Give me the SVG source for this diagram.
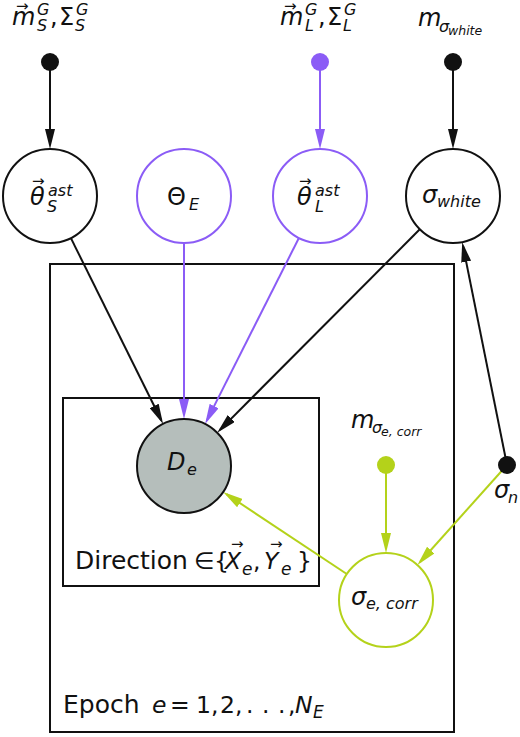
<svg xmlns="http://www.w3.org/2000/svg" width="520" height="737" viewBox="0 0 520 737">
<defs>
<style>
text { font-family: "DejaVu Sans", "Noto Sans", sans-serif; fill: #111; }
.it { font-style: italic; }
.m { font-size: 24px; }
.pl { font-size: 25px; }
.pm { font-size: 23.5px; }
.s { font-size: 16px; }
.ps { font-size: 17px; }
.ss { font-size: 12.5px; }
.vec { font-size: 15px; }
.node { fill: #fff; stroke-width: 2; }
.k { stroke: #111; }
.p { stroke: #8b5cf6; }
.g { stroke: #b4d21a; }
.edge { fill: none; stroke-width: 2; }
.plate { fill: none; stroke: #111; stroke-width: 2; }
</style>
<marker id="ak" viewBox="0 0 20 10" refX="16" refY="5" markerWidth="20" markerHeight="10" markerUnits="userSpaceOnUse" orient="auto"><path d="M0,0 L20,5 L0,10 z" fill="#111"/></marker>
<marker id="ap" viewBox="0 0 20 10" refX="16" refY="5" markerWidth="20" markerHeight="10" markerUnits="userSpaceOnUse" orient="auto"><path d="M0,0 L20,5 L0,10 z" fill="#8b5cf6"/></marker>
<marker id="ag" viewBox="0 0 20 10" refX="16" refY="5" markerWidth="20" markerHeight="10" markerUnits="userSpaceOnUse" orient="auto"><path d="M0,0 L20,5 L0,10 z" fill="#b4d21a"/></marker>
</defs>
<rect width="520" height="737" fill="#fff"/>

<g id="plates">
<rect id="plate-epoch" class="plate" x="50" y="264" width="404" height="468"/>
<rect id="plate-direction" class="plate" x="63" y="398" width="256" height="188"/>
<text id="label-direction"><tspan class="pl" x="75" y="569">Direction</tspan><tspan class="pm" x="194" y="569">∈</tspan><tspan class="pm" x="214" y="569">{</tspan><tspan class="it pm" x="225" y="569">X</tspan><tspan class="it ps" x="242" y="575">e</tspan><tspan class="pm" x="253" y="569">,</tspan><tspan class="it pm" x="264" y="569">Y</tspan><tspan class="it ps" x="281" y="575">e</tspan><tspan class="pm" x="297" y="569">}</tspan></text>
<text class="vec"><tspan x="231" y="549">→</tspan><tspan x="270" y="549">→</tspan></text>
<text id="label-epoch"><tspan class="pl" x="63" y="713">Epoch</tspan><tspan class="it pm" x="152" y="713">e</tspan><tspan class="pm" x="170" y="713">=</tspan><tspan class="pm" x="196" y="713">1,</tspan><tspan class="pm" x="220" y="713">2,</tspan><tspan class="pm" x="246" y="713">.</tspan><tspan class="pm" x="262" y="713">.</tspan><tspan class="pm" x="278" y="713">.</tspan><tspan class="pm" x="288" y="713">,</tspan><tspan class="it pm" x="295" y="713">N</tspan><tspan class="it ps" x="313" y="718">E</tspan></text>
</g>

<g id="connectors">
<line class="edge k" x1="50" y1="62" x2="50" y2="145" marker-end="url(#ak)"/>
<line class="edge p" x1="320" y1="62" x2="320" y2="145" marker-end="url(#ap)"/>
<line class="edge k" x1="453" y1="62" x2="453" y2="145" marker-end="url(#ak)"/>
<line class="edge k" x1="70.9" y1="238.1" x2="161.3" y2="420.3" marker-end="url(#ak)"/>
<line class="edge p" x1="184" y1="243" x2="184" y2="415" marker-end="url(#ap)"/>
<line class="edge p" x1="298.9" y1="238" x2="206.9" y2="420.4" marker-end="url(#ap)"/>
<line class="edge k" x1="419.8" y1="229.3" x2="220" y2="429.9" marker-end="url(#ak)"/>
<line class="edge k" x1="507" y1="465" x2="463" y2="246" marker-end="url(#ak)"/>
<line class="edge g" x1="386" y1="465" x2="386" y2="549" marker-end="url(#ag)"/>
<line class="edge g" x1="507" y1="465" x2="420.1" y2="562" marker-end="url(#ag)"/>
<line class="edge g" x1="346.8" y1="574" x2="226.5" y2="494.2" marker-end="url(#ag)"/>
</g>

<g id="hyper-S">
<circle cx="50" cy="62" r="9" fill="#111"/>
<text class="it m" x="12" y="25">m</text>
<text class="vec" x="16" y="11">→</text>
<text class="it s"><tspan x="37" y="15">G</tspan><tspan x="37" y="31">S</tspan></text>
<text class="m"><tspan x="50" y="25">,</tspan><tspan x="59" y="25">Σ</tspan></text>
<text class="it s"><tspan x="76" y="15">G</tspan><tspan x="75" y="31">S</tspan></text>
</g>

<g id="hyper-L">
<circle cx="320" cy="62" r="9" fill="#8b5cf6"/>
<text class="it m" x="280" y="25">m</text>
<text class="vec" x="284" y="11">→</text>
<text class="it s"><tspan x="305" y="15">G</tspan><tspan x="305" y="31">L</tspan></text>
<text class="m"><tspan x="318" y="25">,</tspan><tspan x="327" y="25">Σ</tspan></text>
<text class="it s"><tspan x="344" y="15">G</tspan><tspan x="343" y="31">L</tspan></text>
</g>

<g id="hyper-white">
<circle cx="453" cy="62" r="9" fill="#111"/>
<text class="it m" x="418" y="26">m</text>
<text class="it s" x="439" y="32">σ</text>
<text class="it ss" x="448" y="35">white</text>
</g>

<g id="theta-S">
<circle class="node k" cx="50" cy="196" r="47"/>
<text class="it m" x="30" y="205">θ</text>
<text class="vec" x="32" y="186">→</text>
<text class="it s"><tspan x="48" y="196">ast</tspan><tspan x="47" y="212">S</tspan></text>
</g>

<g id="Theta-E">
<circle class="node p" cx="184" cy="196" r="47"/>
<text class="m" x="167" y="205">Θ</text>
<text class="it s" x="189" y="210">E</text>
</g>

<g id="theta-L">
<circle class="node p" cx="320" cy="196" r="47"/>
<text class="it m" x="297" y="205">θ</text>
<text class="vec" x="299" y="186">→</text>
<text class="it s"><tspan x="315" y="196">ast</tspan><tspan x="315" y="212">L</tspan></text>
</g>

<g id="sigma-white">
<circle class="node k" cx="453" cy="196" r="47"/>
<text class="it m" x="422" y="203">σ</text>
<text class="it s" x="437" y="207">white</text>
</g>

<g id="D-e">
<circle cx="184" cy="466" r="47" fill="#b5bebb" stroke="#111" stroke-width="2"/>
<text class="it m" x="167" y="470">D</text>
<text class="it s" x="187" y="475">e</text>
</g>

<g id="hyper-corr">
<circle cx="386" cy="465" r="9" fill="#b4d21a"/>
<text class="it m" x="351" y="428">m</text>
<text class="it s" x="372" y="433">σ</text>
<text class="it ss" x="381" y="436">e, corr</text>
</g>

<g id="sigma-n">
<circle cx="507" cy="465" r="9" fill="#111"/>
<text class="it m" x="494" y="498">σ</text>
<text class="it s" x="508" y="503">n</text>
</g>

<g id="sigma-e-corr">
<circle class="node g" cx="386" cy="600" r="47"/>
<text class="it m" x="351" y="605">σ</text>
<text class="it s" x="366" y="609">e, corr</text>
</g>
</svg>
